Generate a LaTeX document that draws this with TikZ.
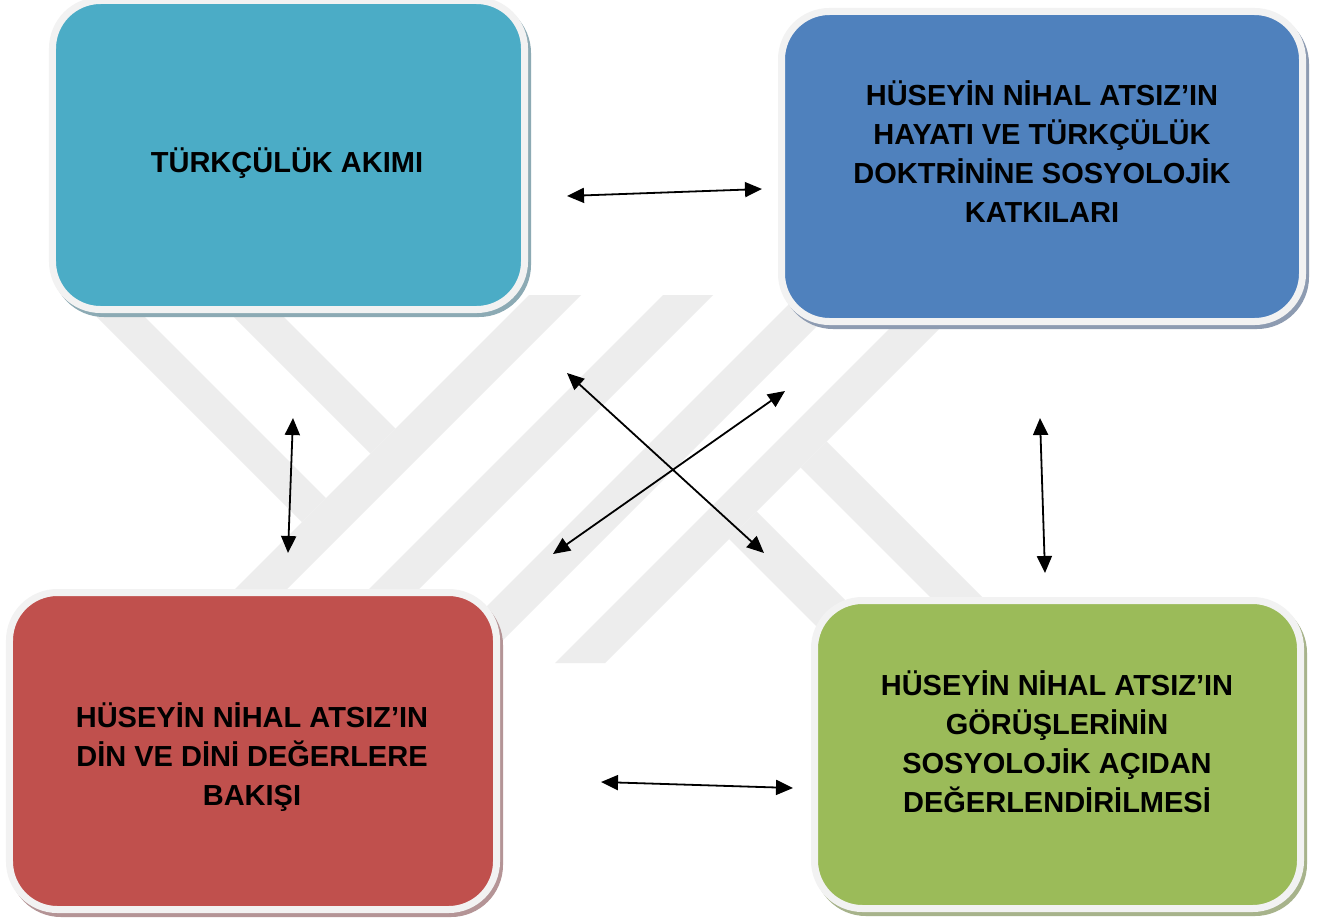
\documentclass[tikz,border=0pt]{standalone}
\usepackage{fontspec}
\setmainfont{Liberation Sans}
\usetikzlibrary{arrows.meta,calc}
\definecolor{cteal}{HTML}{4BACC6}
\definecolor{cblue}{HTML}{4F81BD}
\definecolor{cred}{HTML}{C0504D}
\definecolor{cgreen}{HTML}{9BBB59}
\definecolor{cborder}{HTML}{F2F2F2}
\definecolor{shteal}{HTML}{8CAAB4}
\definecolor{shblue}{HTML}{8D9BB1}
\definecolor{shred}{HTML}{B49496}
\definecolor{shgreen}{HTML}{A7B38B}
\definecolor{cwm}{HTML}{EDEDED}
\begin{document}
\begin{tikzpicture}[x=1bp,y=-1bp,
  box/.style={draw=cborder, line width=7bp, rounded corners=48bp, inner sep=0pt},
  shadowbox/.style={rounded corners=52bp},
  lbl/.style={font=\fontsize{29bp}{39bp}\selectfont\bfseries, align=center, inner sep=0pt, text=black, text depth=0bp},
  link/.style={line width=1.8bp, {Triangle[length=17bp,width=15bp]}-{Triangle[length=17bp,width=15bp]}},
  wm/.style={fill=cwm, draw=none}]
\useasboundingbox (0,0) rectangle (1325,921);
\fill[white] (0,0) rectangle (1325,921);
\begin{scope}
\clip (0,0) rectangle (1325,921);
% watermark stripes
\fill[wm] (529,295) -- (581,295) -- (213,663) -- (161,663) -- cycle;
\fill[wm] (663,295) -- (713,295) -- (345,663) -- (295,663) -- cycle;
\fill[wm] (798,295) -- (848,295) -- (480,663) -- (430,663) -- cycle;
\fill[wm] (923,295) -- (973,295) -- (605,663) -- (555,663) -- cycle;
\fill[wm] (75,295) -- (123,295) -- (326,498) -- (302,522) -- cycle;
\fill[wm] (212,295) -- (262,295) -- (395.5,428.5) -- (370.5,453.5) -- cycle;
\fill[wm] (826.5,441.5) -- (800.5,467.5) -- (996,663) -- (1048,663) -- cycle;
\fill[wm] (756.5,511.5) -- (729,539) -- (853,663) -- (908,663) -- cycle;
% shadows
\fill[shteal, shadowbox] (52,1) rectangle (531,317);
\fill[shblue, shadowbox] (781,12) rectangle (1309,329);
\fill[shred, shadowbox] (9,593) rectangle (503,917);
\fill[shgreen, shadowbox] (814,601) rectangle (1307,916);
% boxes
\node[box, fill=cteal, minimum width=472bp, minimum height=309bp] (A) at (288.5,155) {};
\node[box, fill=cblue, minimum width=521bp, minimum height=310bp] (B) at (1042,166.5) {};
\node[box, fill=cred, minimum width=487bp, minimum height=317bp] (C) at (253,751) {};
\node[box, fill=cgreen, minimum width=486bp, minimum height=308bp] (D) at (1057.5,754.5) {};
\end{scope}
% texts
\node[lbl, text height=20.8bp] (At) at (287,162) {TÜRKÇÜLÜK AKIMI};
\node[lbl, text height=137.8bp] (Bt) at (1042,153.5) {HÜSEYİN NİHAL ATSIZ’IN\\HAYATI VE TÜRKÇÜLÜK\\DOKTRİNİNE SOSYOLOJİK\\KATKILARI};
\node[lbl, text height=98.8bp] (Ct) at (252,756) {HÜSEYİN NİHAL ATSIZ’IN\\DİN VE DİNİ DEĞERLERE\\BAKIŞI};
\node[lbl, text height=137.8bp] (Dt) at (1057,743.5) {HÜSEYİN NİHAL ATSIZ’IN\\GÖRÜŞLERİNİN\\SOSYOLOJİK AÇIDAN\\DEĞERLENDİRİLMESİ};
% connectors
\coordinate (ab1) at (567,196); \coordinate (ab2) at (762,189);
\coordinate (ac1) at (293,418); \coordinate (ac2) at (288,553);
\coordinate (bd1) at (1040,418); \coordinate (bd2) at (1045,573);
\coordinate (cd1) at (601,782); \coordinate (cd2) at (793,788);
\coordinate (ad1) at (567,373); \coordinate (ad2) at (764,553);
\coordinate (cb1) at (553,554); \coordinate (cb2) at (785,391);
\draw[link] (ab1) -- (ab2);
\draw[link] (ac1) -- (ac2);
\draw[link] (bd1) -- (bd2);
\draw[link] (cd1) -- (cd2);
\draw[link] (ad1) -- (ad2);
\draw[link] (cb1) -- (cb2);
\end{tikzpicture}
\end{document}
